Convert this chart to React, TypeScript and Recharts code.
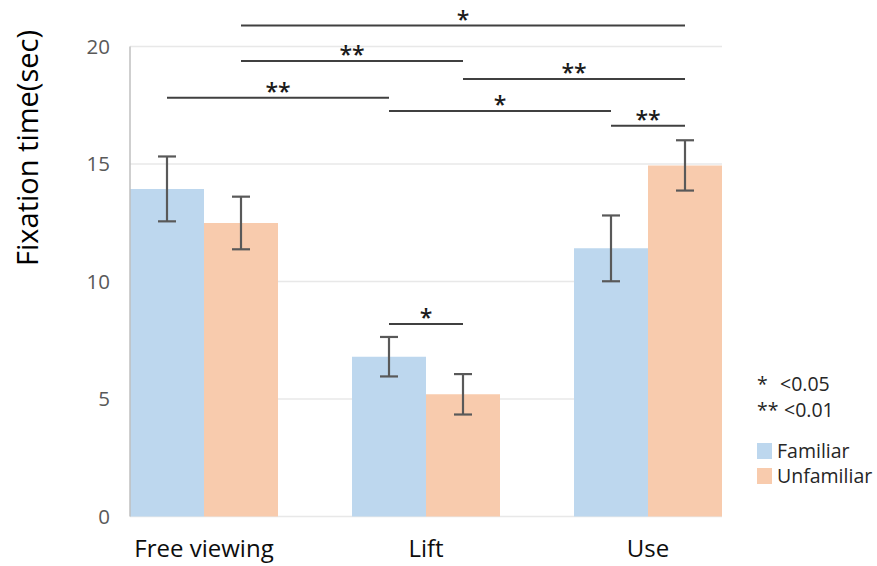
import React from 'react';
import {
  BarChart,
  Bar,
  XAxis,
  YAxis,
  CartesianGrid,
  ErrorBar,
  ReferenceLine,
  Legend,
} from 'recharts';

const categories = ['Free viewing', 'Lift', 'Use'];
const familiarMeans = [13.94, 6.8, 11.41];
const unfamiliarMeans = [12.49, 5.2, 14.94];
const familiarErrors = [1.38, 0.84, 1.4];
const unfamiliarErrors = [1.12, 0.86, 1.07];
const yTicks = [0, 5, 10, 15, 20];

// significance brackets: from/to = [category index, series], y = bracket height, label
const bracketFrom = [[0, 'U'], [0, 'U'], [1, 'U'], [0, 'F'], [1, 'F'], [2, 'F'], [1, 'F']];
const bracketTo = [[2, 'U'], [1, 'U'], [2, 'U'], [1, 'F'], [2, 'F'], [2, 'U'], [1, 'U']];
const bracketY = [20.89, 19.38, 18.62, 17.82, 17.26, 16.63, 8.19];
const bracketLabels = ['*', '**', '**', '**', '*', '**', '*'];

const pStars = ['*', '**'];
const pTexts = ['<0.05', '<0.01'];

const FONT = '"Open Sans", "Segoe UI", sans-serif';
const BLUE = '#BDD7EE';
const ORANGE = '#F8CBAD';

const data = categories.map((c, i) => ({
  idx: i,
  name: c,
  familiar: familiarMeans[i],
  unfamiliar: unfamiliarMeans[i],
  familiarErr: familiarErrors[i],
  unfamiliarErr: unfamiliarErrors[i],
}));

// bar centre offset within a category (each bar is one third of the category spacing)
const barCentre = (p: any[]) => (p[0] as number) + (p[1] === 'F' ? -1 / 6 : 1 / 6);

const renderLegend = (props: any) => {
  const payload = props.payload || [];
  return (
    <div style={{ fontFamily: FONT, color: '#262626', fontSize: 19.5, lineHeight: '26px' }}>
      {pStars.map((s, i) => (
        <div key={s} style={{ display: 'flex' }}>
          <span style={{ display: 'inline-block', width: s.length === 1 ? 23 : 27 }}>{s}</span>
          <span>{pTexts[i]}</span>
        </div>
      ))}
      <div style={{ height: 15 }} />
      {payload.map((p: any) => (
        <div key={p.value} style={{ display: 'flex', alignItems: 'center', height: 25 }}>
          <span
            style={{ display: 'inline-block', width: 15, height: 16, background: p.color, marginRight: 5 }}
          />
          <span>{p.value}</span>
        </div>
      ))}
    </div>
  );
};

const YLabel = () => (
  <text
    x={38}
    y={148}
    transform="rotate(-90 38 148)"
    textAnchor="middle"
    fontFamily={FONT}
    fontSize={29}
    fill="#000"
  >
    Fixation time(sec)
  </text>
);

export default function App() {
  return (
    <div style={{ position: 'absolute', left: 0, top: 0, background: '#fff' }}>
      <BarChart
        width={877}
        height={566}
        data={data}
        margin={{ top: 46.5, right: 155, bottom: 9.5, left: 70 }}
        barGap={0}
        barSize={74}
      >
        <CartesianGrid vertical={false} stroke="#e8e8e8" strokeWidth={1.5} />
        <XAxis
          dataKey="idx"
          type="number"
          domain={[-1 / 3, 7 / 3]}
          ticks={[0, 1, 2]}
          tickFormatter={(v: number) => categories[v]}
          axisLine={false}
          tickLine={false}
          tickSize={0}
          tickMargin={23}
          height={40}
          tick={{ fill: '#0d0d0d', fontSize: 24, fontFamily: FONT }}
          interval={0}
        />
        <YAxis
          domain={[0, 20]}
          ticks={yTicks}
          width={60}
          axisLine={{ stroke: '#bfbfbf', strokeWidth: 1.5 }}
          tickLine={false}
          tickSize={0}
          tickMargin={20}
          tick={{ fill: '#595959', fontSize: 20.5, fontFamily: FONT }}
          label={<YLabel />}
        />
        <Bar dataKey="familiar" name="Familiar" fill={BLUE} isAnimationActive={false}>
          <ErrorBar dataKey="familiarErr" width={9} strokeWidth={2.2} stroke="#595959" direction="y" />
        </Bar>
        <Bar dataKey="unfamiliar" name="Unfamiliar" fill={ORANGE} isAnimationActive={false}>
          <ErrorBar dataKey="unfamiliarErr" width={9} strokeWidth={2.2} stroke="#595959" direction="y" />
        </Bar>
        {bracketY.map((y, i) => (
          <ReferenceLine
            key={i}
            ifOverflow="visible"
            segment={[
              { x: barCentre(bracketFrom[i]), y },
              { x: barCentre(bracketTo[i]), y },
            ]}
            stroke="#404040"
            strokeWidth={2}
            label={{
              value: bracketLabels[i],
              position: 'top',
              offset: -2,
              fill: '#1a1a1a',
              fontSize: 23,
              fontWeight: 600,
              fontFamily: FONT,
            }}
          />
        ))}
        <Legend
          layout="vertical"
          align="center"
          verticalAlign="middle"
          content={renderLegend}
          wrapperStyle={{ left: 757, top: 371, width: 120 }}
        />
      </BarChart>
    </div>
  );
}
